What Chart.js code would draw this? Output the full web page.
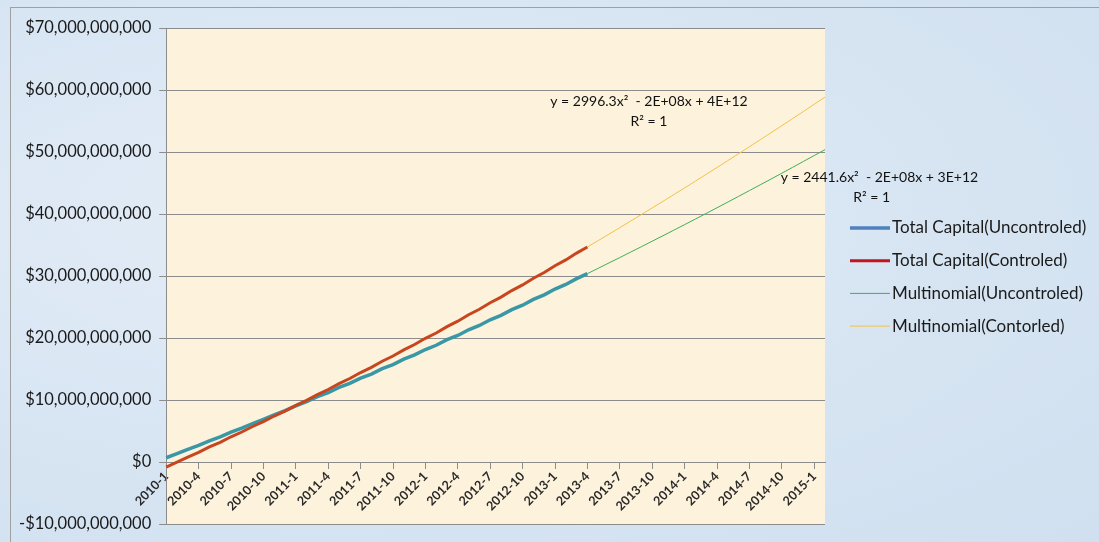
<!DOCTYPE html>
<html>
<head>
<meta charset="utf-8">
<script src="https://cdn.jsdelivr.net/npm/chart.js@4.4.0/dist/chart.umd.min.js"></script>
<style>
  html, body { margin: 0; padding: 0; }
  body {
    width: 1099px; height: 542px; overflow: hidden;
    background: radial-gradient(ellipse at 30% 40%, #e4edf7 0%, #d6e4f2 60%, #d0e0f0 100%);
  }
  .frame { position: absolute; left: 10px; top: 7px; right: -2px; bottom: -2px;
    border-top: 1px solid #a0a0a0; border-left: 1px solid #a0a0a0; }
  #wrap { position: absolute; left: 0; top: 0; width: 1099px; height: 542px; }
  canvas { display: block; }
</style>
</head>
<body>
<div class="frame"></div>
<div id="wrap"><canvas id="chart" width="1099" height="542"></canvas></div>
<script>
// month categories, 2010-1 .. 2015-2
const months = [
  '2010-1','2010-2','2010-3','2010-4','2010-5','2010-6','2010-7','2010-8','2010-9','2010-10','2010-11','2010-12',
  '2011-1','2011-2','2011-3','2011-4','2011-5','2011-6','2011-7','2011-8','2011-9','2011-10','2011-11','2011-12',
  '2012-1','2012-2','2012-3','2012-4','2012-5','2012-6','2012-7','2012-8','2012-9','2012-10','2012-11','2012-12',
  '2013-1','2013-2','2013-3','2013-4','2013-5','2013-6','2013-7','2013-8','2013-9','2013-10','2013-11','2013-12',
  '2014-1','2014-2','2014-3','2014-4','2014-5','2014-6','2014-7','2014-8','2014-9','2014-10','2014-11','2014-12',
  '2015-1','2015-2'
];

// values in billions of dollars
const totalUncontroled = [
  0.70, 1.35, 2.06, 2.70, 3.43, 4.08, 4.82, 5.47, 6.22, 6.88, 7.63, 8.30,
  9.08, 9.74, 10.55, 11.20, 12.04, 12.70, 13.55, 14.20, 15.06, 15.72, 16.60, 17.28,
  18.15, 18.84, 19.74, 20.42, 21.33, 22.03, 22.95, 23.66, 24.58, 25.30, 26.24, 26.97,
  27.90, 28.65, 29.58, 30.39
];
const totalControled = [
  -0.80, -0.02, 0.81, 1.57, 2.44, 3.19, 4.08, 4.85, 5.74, 6.52, 7.43, 8.22,
  9.14, 9.95, 10.88, 11.70, 12.66, 13.48, 14.44, 15.28, 16.26, 17.10, 18.10, 18.96,
  19.96, 20.82, 21.85, 22.72, 23.76, 24.65, 25.70, 26.60, 27.66, 28.57, 29.65, 30.57,
  31.67, 32.60, 33.70, 34.69
];
// trendline part visible beyond the data (2013-4 .. 2015-2)
const trendStart = 39;
const trendUncontroled = [
  30.39, 31.25, 32.12, 32.98, 33.86, 34.73, 35.62, 36.50, 37.40, 38.29, 39.19, 40.10,
  41.01, 41.93, 42.85, 43.78, 44.71, 45.64, 46.58, 47.53, 48.48, 49.43, 50.39
];
const trendControled = [
  34.69, 35.72, 36.76, 37.81, 38.86, 39.92, 40.98, 42.05, 43.13, 44.21, 45.30, 46.40,
  47.50, 48.61, 49.73, 50.85, 51.97, 53.11, 54.25, 55.39, 56.54, 57.70, 58.86
];

const eqControled = ['y = 2996.3x\u00B2  - 2E+08x + 4E+12', 'R\u00B2 = 1'];
const eqUncontroled = ['y = 2441.6x\u00B2  - 2E+08x + 3E+12', 'R\u00B2 = 1'];

const B = 1e9;
const toDollars = arr => arr.map(v => v * B);
const padTrend = arr => new Array(trendStart).fill(null).concat(toDollars(arr));

const fmtMoney = v => (v < 0 ? '-$' : '$') + Math.abs(v).toLocaleString('en-US');
const FONT = 'Lato, "Open Sans", sans-serif';

// cream plot background
const plotBg = {
  id: 'plotBg',
  beforeDraw(chart) {
    const { ctx, chartArea: a } = chart;
    ctx.save();
    ctx.fillStyle = '#fdf2dc';
    ctx.fillRect(a.left, a.top, a.right - a.left, a.bottom - a.top);
    ctx.restore();
  }
};

// trendline equation labels
const equations = {
  id: 'equations',
  afterDraw(chart) {
    const { ctx, scales: { x, y } } = chart;
    ctx.save();
    ctx.font = '14px ' + FONT;
    ctx.fillStyle = '#111';
    ctx.textBaseline = 'middle';
    // controled
    ctx.textAlign = 'center';
    const cx = x.getPixelForValue(44.7);
    ctx.fillText(eqControled[0], cx, y.getPixelForValue(58.1 * B));
    ctx.fillText(eqControled[1], cx, y.getPixelForValue(54.9 * B));
    // uncontroled
    ctx.textAlign = 'left';
    const ux = x.getPixelForValue(56.9);
    ctx.fillText(eqUncontroled[0], ux, y.getPixelForValue(45.9 * B));
    ctx.textAlign = 'center';
    ctx.fillText(eqUncontroled[1], ux + 91, y.getPixelForValue(42.7 * B));
    ctx.restore();
  }
};

// legend to the right, line samples in the legend colours
const sideLegend = {
  id: 'sideLegend',
  afterDraw(chart) {
    const { ctx, chartArea: a } = chart;
    ctx.save();
    ctx.font = '17px ' + FONT;
    ctx.fillStyle = '#1a1a1a';
    ctx.textAlign = 'left';
    ctx.textBaseline = 'middle';
    chart.data.datasets.forEach((ds, i) => {
      const yy = 228 + i * 32.7;
      const x0 = a.right + 25;
      ctx.strokeStyle = ds.legendColor || ds.borderColor;
      ctx.lineWidth = ds.borderWidth;
      ctx.beginPath();
      ctx.moveTo(x0, yy);
      ctx.lineTo(x0 + 40, yy);
      ctx.stroke();
      ctx.fillText(ds.label, x0 + 42, yy);
    });
    ctx.restore();
  }
};

new Chart(document.getElementById('chart').getContext('2d'), {
  type: 'line',
  data: {
    labels: months,
    datasets: [
      {
        label: 'Total Capital(Uncontroled)',
        data: toDollars(totalUncontroled),
        borderColor: '#3a98a6',
        legendColor: '#4f81bd',
        borderWidth: 3.5,
        pointRadius: 0,
        order: 2
      },
      {
        label: 'Total Capital(Controled)',
        data: toDollars(totalControled),
        borderColor: '#c8461f',
        legendColor: '#c0161c',
        borderWidth: 3,
        pointRadius: 0,
        order: 1
      },
      {
        label: 'Multinomial(Uncontroled)',
        data: padTrend(trendUncontroled),
        borderColor: '#3fae5a',
        borderWidth: 1,
        pointRadius: 0,
        order: 3
      },
      {
        label: 'Multinomial(Contorled)',
        data: padTrend(trendControled),
        borderColor: '#f2c14a',
        borderWidth: 1,
        pointRadius: 0,
        order: 4
      }
    ]
  },
  options: {
    responsive: false,
    animation: false,
    devicePixelRatio: 1,
    layout: { padding: { left: 11, top: 28, right: 274, bottom: 0 } },
    scales: {
      x: {
        type: 'category',
        position: { y: 0 },
        offset: false,
        border: { color: '#8c8c8c', width: 1 },
        grid: { drawOnChartArea: false, drawTicks: true, tickLength: 6, tickColor: '#8c8c8c' },
        ticks: {
          autoSkip: false,
          minRotation: 45,
          maxRotation: 45,
          padding: 1,
          color: '#2a2a2a',
          font: { family: FONT, size: 12.5, weight: 'bold' },
          callback: function (value, index) {
            return index % 3 === 0 ? this.getLabelForValue(value) : null;
          }
        }
      },
      y: {
        min: -10 * B,
        max: 70 * B,
        border: { color: '#8c8c8c', width: 1 },
        grid: { color: '#8c8c8c', lineWidth: 1, tickLength: 7 },
        ticks: {
          stepSize: 10 * B,
          padding: 8,
          color: '#1a1a1a',
          font: { family: FONT, size: 16.5 },
          callback: v => fmtMoney(v)
        }
      }
    },
    plugins: {
      legend: { display: false },
      tooltip: { enabled: false }
    }
  },
  plugins: [plotBg, equations, sideLegend]
});
</script>
</body>
</html>
